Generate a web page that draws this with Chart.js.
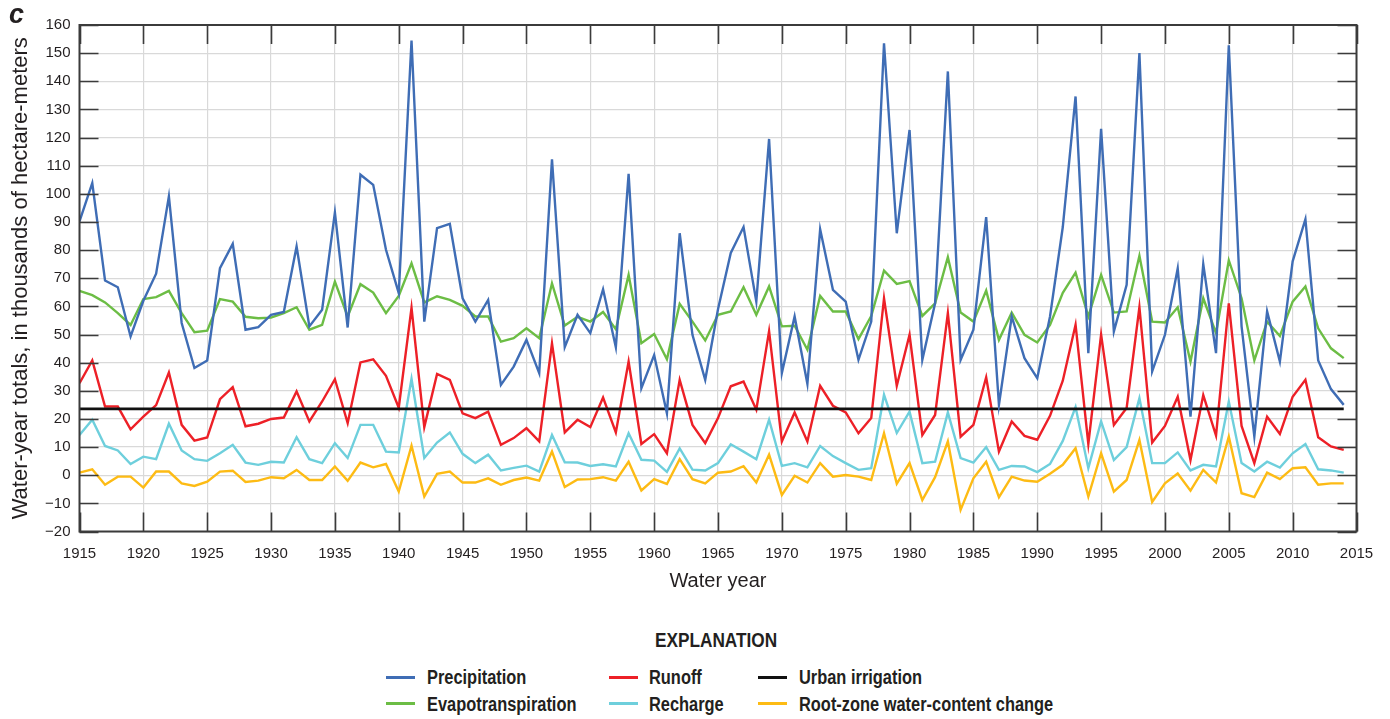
<!DOCTYPE html>
<html>
<head>
<meta charset="utf-8">
<title>Water-year totals</title>
<script src="https://cdn.jsdelivr.net/npm/chart.js@4.4.1/dist/chart.umd.min.js"></script>
<style>
  html, body { margin: 0; padding: 0; background: #ffffff; }
  #wrap { position: relative; width: 1390px; height: 719px; overflow: hidden; }
  #chart { position: absolute; left: 0; top: 0; }
  .cond { font-family: 'Liberation Sans', Arial, sans-serif; transform: scaleX(0.82); transform-origin: 0 50%; }
  #panel { position: absolute; left: 9px; top: 1px; font: italic bold 27px 'Liberation Sans', Arial, sans-serif; color: #231f20; line-height: 27px; }
  #explanation { position: absolute; left: 655px; top: 628px; height: 24px; line-height: 24px;
                 font-weight: bold; font-size: 21px; color: #231f20; white-space: nowrap; }
  .sw { position: absolute; height: 3px; width: 29px; }
  .lt { position: absolute; height: 24px; line-height: 24px; font-weight: bold; font-size: 20px; color: #231f20; white-space: nowrap; }
</style>
</head>
<body>
<div id="wrap">
  <canvas id="chart" width="1390" height="600"></canvas>
  <div id="panel">c</div>
  <div id="explanation" class="cond">EXPLANATION</div>
  <div id="legend"></div>
</div>
<script>
// Water years 1915-2014
const years = [];
for (let y = 1915; y <= 2014; y++) years.push(y);

// Water-year totals, thousands of hectare-meters
const precipitation = [
  90.2, 103.8, 69.2, 66.8, 49.3, 62.0, 71.6, 99.1, 54.1, 38.1,
  40.8, 73.6, 82.2, 51.7, 52.6, 57.0, 58.0, 81.3, 52.9, 58.8,
  93.4, 52.5, 106.8, 103.2, 80.1, 64.7, 154.5, 54.6, 87.8, 89.3,
  62.9, 54.6, 62.3, 32.1, 38.6, 48.1, 36.3, 112.3, 45.5, 57.0,
  50.5, 66.1, 45.5, 107.1, 30.9, 42.7, 22.0, 86.0, 49.9, 33.9,
  59.0, 79.0, 88.2, 61.7, 119.5, 36.3, 56.4, 32.5, 87.4, 65.9,
  61.7, 41.0, 54.6, 153.5, 86.0, 122.7, 41.0, 61.1, 143.5, 41.0,
  51.7, 91.7, 25.0, 56.4, 41.6, 34.5, 56.4, 88.2, 134.6, 43.4,
  123.1, 51.1, 67.7, 150.0, 36.9, 49.9, 73.5, 20.8, 75.0, 43.4,
  152.8, 52.9, 13.8, 58.2, 40.4, 76.0, 91.0, 40.8, 30.6, 25.0
];
const evapotranspiration = [
  65.5, 64.0, 61.4, 57.6, 53.4, 62.6, 63.3, 65.5, 57.6, 50.8,
  51.4, 62.6, 61.7, 56.3, 55.8, 56.0, 57.6, 59.7, 51.7, 53.4,
  68.8, 56.4, 67.9, 64.9, 57.6, 63.7, 75.3, 61.4, 63.6, 62.3,
  60.2, 56.4, 56.4, 47.5, 48.7, 52.2, 48.7, 68.2, 53.2, 56.3,
  54.6, 58.0, 51.9, 71.2, 46.9, 50.2, 41.2, 60.9, 54.6, 47.9,
  57.0, 58.2, 66.8, 57.0, 67.1, 52.9, 53.1, 44.6, 63.7, 58.2,
  58.2, 48.4, 56.6, 72.7, 68.0, 69.0, 56.6, 61.1, 77.5, 57.8,
  54.6, 65.6, 48.1, 57.8, 49.9, 47.2, 53.4, 64.8, 72.0, 56.4,
  71.2, 57.8, 58.2, 78.0, 54.6, 54.3, 59.7, 40.4, 62.9, 50.5,
  76.4, 62.9, 40.8, 54.6, 49.5, 61.7, 67.1, 52.2, 45.1, 41.6
];
const runoff = [
  32.7, 40.8, 24.4, 24.4, 16.3, 20.8, 24.9, 36.5, 17.9, 12.3,
  13.4, 27.0, 31.3, 17.4, 18.3, 20.0, 20.5, 29.8, 19.1, 26.2,
  34.1, 18.5, 40.1, 41.2, 35.3, 24.0, 59.5, 17.1, 36.0, 33.9,
  22.0, 20.3, 22.6, 10.8, 13.2, 16.7, 12.0, 46.9, 15.2, 19.7,
  17.1, 27.6, 15.2, 40.4, 11.1, 14.6, 7.8, 33.9, 17.9, 11.4,
  20.3, 31.6, 33.3, 23.3, 51.2, 12.0, 22.3, 12.0, 31.8, 24.7,
  22.3, 14.9, 20.3, 62.9, 31.8, 49.9, 14.3, 21.4, 57.6, 13.7,
  17.9, 34.8, 8.4, 19.1, 14.0, 12.6, 21.1, 33.6, 53.5, 11.1,
  50.0, 17.9, 23.9, 59.7, 11.6, 17.5, 27.9, 5.4, 28.5, 14.1,
  61.1, 17.5, 4.3, 20.8, 14.7, 27.9, 33.9, 13.5, 10.2, 9.0
];
const recharge = [
  14.3, 19.7, 10.4, 8.8, 4.0, 6.6, 5.7, 18.3, 8.8, 5.7,
  5.1, 7.8, 10.8, 4.5, 3.7, 4.8, 4.5, 13.5, 5.7, 4.3,
  11.4, 6.1, 17.9, 17.9, 8.4, 8.1, 34.3, 6.1, 11.6, 15.2,
  7.6, 4.3, 7.3, 1.7, 2.6, 3.4, 1.3, 14.3, 4.6, 4.5,
  3.3, 3.9, 3.1, 14.9, 5.5, 5.2, 1.2, 9.5, 2.0, 1.7,
  4.3, 11.0, 8.4, 5.7, 19.7, 3.3, 4.3, 2.8, 10.4, 6.8,
  4.3, 1.9, 2.5, 28.6, 15.0, 22.6, 4.3, 4.8, 22.3, 6.1,
  4.5, 10.0, 1.9, 3.3, 3.1, 1.1, 4.0, 12.2, 24.2, 2.5,
  19.1, 5.4, 10.0, 27.4, 4.3, 4.3, 8.1, 1.7, 3.7, 3.1,
  26.2, 4.3, 1.3, 4.8, 2.7, 7.8, 11.1, 2.1, 1.7, 0.9
];
const rootZoneChange = [
  0.9, 2.1, -3.4, -0.5, -0.5, -4.4, 1.3, 1.3, -2.9, -3.8,
  -2.3, 1.3, 1.6, -2.4, -1.9, -0.7, -1.1, 1.9, -1.7, -1.7,
  3.1, -2.0, 4.5, 2.8, 4.0, -5.8, 10.5, -7.6, 0.5, 1.3,
  -2.6, -2.6, -1.1, -3.4, -1.7, -0.8, -1.9, 8.4, -4.2, -1.5,
  -1.4, -0.7, -1.9, 4.8, -5.4, -1.4, -3.1, 5.7, -1.4, -2.9,
  0.9, 1.3, 3.2, -2.6, 7.3, -7.0, -0.2, -2.6, 4.3, -0.5,
  0.1, -0.5, -1.7, 14.9, -3.0, 4.3, -8.8, -0.7, 12.0, -12.3,
  -1.1, 4.8, -7.8, -0.5, -1.9, -2.3, 0.5, 3.7, 9.6, -7.6,
  7.8, -5.8, -1.7, 12.5, -9.5, -2.9, 0.6, -5.5, 1.9, -2.6,
  13.7, -6.4, -7.8, 0.9, -1.4, 2.5, 2.8, -3.4, -2.9, -2.9
];
// Urban irrigation held constant over the whole record
const urbanIrrigation = 23.6;

// Axis ranges and tick steps
const xTicks = { min: 1915, max: 2015, step: 5 };
const yTicks = { min: -20, max: 160, step: 10 };

const FONT = "'Liberation Sans', Arial, sans-serif";
const INK = '#231f20';

const series = [
  { label: 'Precipitation', values: precipitation, color: '#3f6db5' },
  { label: 'Evapotranspiration', values: evapotranspiration, color: '#6cbd45' },
  { label: 'Runoff', values: runoff, color: '#ed2027' },
  { label: 'Recharge', values: recharge, color: '#6ecfdc' },
  { label: 'Urban irrigation', values: years.map(() => urbanIrrigation), color: '#111111' },
  { label: 'Root-zone water-content change', values: rootZoneChange, color: '#fdbb14' }
];

const drawOrder = ['Root-zone water-content change', 'Recharge', 'Runoff', 'Evapotranspiration', 'Urban irrigation', 'Precipitation'];

const datasets = series.map(s => ({
  label: s.label,
  data: years.map((yr, i) => ({ x: yr, y: s.values[i] })),
  borderColor: s.color,
  backgroundColor: s.color,
  borderWidth: s.label === 'Urban irrigation' ? 2.8 : 2.4,
  pointRadius: 0,
  tension: 0,
  fill: false,
  order: drawOrder.length - drawOrder.indexOf(s.label)
}));

// Frame around the plot with inward tick marks on all four sides
const frameTicks = {
  id: 'frameTicks',
  afterDatasetsDraw(chart) {
    const { ctx, chartArea: a, scales: { x, y } } = chart;
    ctx.save();
    ctx.strokeStyle = '#3b3b3b';
    ctx.lineWidth = 1.6;
    ctx.beginPath();
    for (let v = xTicks.min; v <= xTicks.max; v += xTicks.step) {
      const px = Math.round(x.getPixelForValue(v)) + 0.5;
      ctx.moveTo(px, a.top); ctx.lineTo(px, a.top + 19);
      ctx.moveTo(px, a.bottom); ctx.lineTo(px, a.bottom - 19);
    }
    for (let v = yTicks.min; v <= yTicks.max; v += yTicks.step) {
      const py = Math.round(y.getPixelForValue(v)) + 0.5;
      ctx.moveTo(a.left, py); ctx.lineTo(a.left + 19, py);
      ctx.moveTo(a.right, py); ctx.lineTo(a.right - 19, py);
    }
    ctx.stroke();
    ctx.lineWidth = 2;
    ctx.strokeRect(a.left, a.top, a.right - a.left, a.bottom - a.top);
    ctx.restore();
  }
};

new Chart(document.getElementById('chart'), {
  type: 'line',
  data: { datasets },
  options: {
    responsive: false,
    devicePixelRatio: 1,
    animation: false,
    events: [],
    layout: { padding: { top: 25, right: 33.5, left: 0, bottom: 0 } },
    plugins: { legend: { display: false }, tooltip: { enabled: false } },
    scales: {
      x: {
        type: 'linear',
        min: xTicks.min, max: xTicks.max,
        afterFit: s => { s.height = 68.5; },
        ticks: {
          stepSize: xTicks.step, autoSkip: false, maxRotation: 0,
          padding: 13, color: INK,
          font: { family: FONT, size: 15 },
          callback: v => String(v)
        },
        grid: { color: '#d9d9d9', lineWidth: 1.2, drawTicks: false },
        border: { display: false },
        title: {
          display: true, text: 'Water year', color: INK,
          font: { family: FONT, size: 20 },
          padding: { top: 0, bottom: 7 }
        }
      },
      y: {
        type: 'linear',
        min: yTicks.min, max: yTicks.max,
        afterFit: s => { s.width = 79.5; },
        ticks: {
          stepSize: yTicks.step, padding: 9, color: INK,
          font: { family: FONT, size: 15 },
          callback: v => String(v).replace('-', '\u2212')
        },
        grid: { color: '#d9d9d9', lineWidth: 1.2, drawTicks: false },
        border: { display: false },
        title: {
          display: true, text: 'Water-year totals, in thousands of hectare-meters', color: INK,
          font: { family: FONT, size: 22 },
          padding: { top: 8, bottom: 0 }
        }
      }
    }
  },
  plugins: [frameTicks]
});

// Explanation block below the plot
const legendLayout = [
  { label: 'Precipitation', col: 0, row: 0 },
  { label: 'Evapotranspiration', col: 0, row: 1 },
  { label: 'Runoff', col: 1, row: 0 },
  { label: 'Recharge', col: 1, row: 1 },
  { label: 'Urban irrigation', col: 2, row: 0 },
  { label: 'Root-zone water-content change', col: 2, row: 1 }
];
const colSwatchX = [386, 609, 758];
const colTextX = [427, 649, 799];
const rowY = [677, 703.5];
const legendBox = document.getElementById('legend');
legendLayout.forEach(item => {
  const s = series.find(d => d.label === item.label);
  const sw = document.createElement('div');
  sw.className = 'sw';
  sw.style.left = colSwatchX[item.col] + 'px';
  sw.style.top = (rowY[item.row] - 1.5) + 'px';
  sw.style.background = s.color;
  legendBox.appendChild(sw);
  const t = document.createElement('div');
  t.className = 'lt cond';
  t.style.left = colTextX[item.col] + 'px';
  t.style.top = (rowY[item.row] - 12) + 'px';
  t.textContent = item.label;
  legendBox.appendChild(t);
});
</script>
</body>
</html>
